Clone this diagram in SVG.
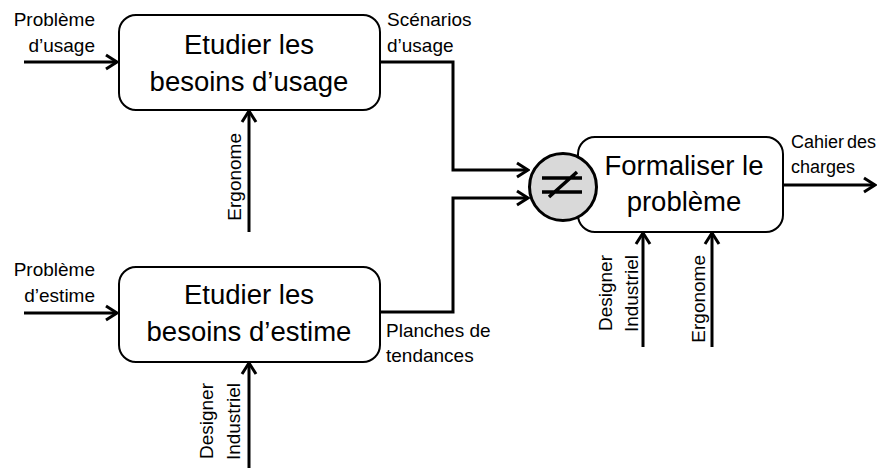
<svg xmlns="http://www.w3.org/2000/svg" width="881" height="468" viewBox="0 0 881 468">
<defs>
<marker id="arr" markerUnits="userSpaceOnUse" viewBox="-14 -10 16 20" refX="0" refY="0" markerWidth="16" markerHeight="20" orient="auto">
<path d="M-11,-7 L0,0 L-11,7" fill="none" stroke="#000" stroke-width="3"/>
</marker>
<style>
.box{fill:#fff;stroke:#000;stroke-width:2}
.title{font-family:"Liberation Sans",Arial,sans-serif;font-size:27.5px;fill:#000;text-anchor:middle}
.lbl{font-family:"Liberation Sans",Arial,sans-serif;font-size:19px;fill:#000}
.end{text-anchor:end}
.ln{fill:none;stroke:#000;stroke-width:3;marker-end:url(#arr)}
</style>
</defs>
<rect width="881" height="468" fill="#fff"/>
<g id="connectors">
<path class="ln" d="M24,62 H117"/>
<path class="ln" d="M24,313 H117"/>
<path class="ln" d="M249,232 V111"/>
<path class="ln" d="M249,468 V363"/>
<path class="ln" d="M380,62 H453 V170 H528"/>
<path class="ln" d="M380,312 H453 V198 H528"/>
<path class="ln" d="M643,347 V233"/>
<path class="ln" d="M712,347 V233"/>
<path class="ln" d="M783,185 H875"/>
</g>
<g id="n-usage">
<rect class="box" x="119" y="15" width="261" height="95" rx="17"/>
<text class="title" x="249" y="54">Etudier les</text>
<text class="title" x="249" y="91">besoins d’usage</text>
</g>
<g id="n-estime">
<rect class="box" x="119" y="267" width="261" height="95" rx="17"/>
<text class="title" x="249" y="304">Etudier les</text>
<text class="title" x="249" y="341">besoins d’estime</text>
</g>
<g id="n-formaliser">
<rect class="box" x="578" y="137" width="205" height="95" rx="17"/>
<text class="title" x="684" y="175">Formaliser le</text>
<text class="title" x="684" y="211">problème</text>
</g>
<g id="n-neq">
<circle cx="563" cy="187" r="33.5" fill="#d9d9d9" stroke="#000" stroke-width="3"/>
<path d="M542,178 H582 M542,192 H582 M549,197 L577,172" stroke="#000" stroke-width="3.5" fill="none"/>
</g>
<g id="labels">
<text class="lbl end" x="95" y="26">Problème</text>
<text class="lbl end" x="95" y="52">d’usage</text>
<text class="lbl" x="387" y="26">Scénarios</text>
<text class="lbl" x="387" y="52">d’usage</text>
<text class="lbl end" x="95" y="276">Problème</text>
<text class="lbl end" x="95" y="302">d’estime</text>
<text class="lbl" x="386" y="337">Planches de</text>
<text class="lbl" x="386" y="362">tendances</text>
<text class="lbl" x="791" y="148" style="font-size:18px;word-spacing:-2px">Cahier des</text>
<text class="lbl" x="791" y="173" style="font-size:18px">charges</text>
<text class="lbl end" transform="translate(241,133) rotate(-90)">Ergonome</text>
<text class="lbl end" transform="translate(213,383) rotate(-90)">Designer</text>
<text class="lbl end" transform="translate(240,383) rotate(-90)">Industriel</text>
<text class="lbl end" transform="translate(612,255) rotate(-90)">Designer</text>
<text class="lbl end" transform="translate(638,255) rotate(-90)">Industriel</text>
<text class="lbl end" transform="translate(705,255) rotate(-90)">Ergonome</text>
</g>
</svg>
